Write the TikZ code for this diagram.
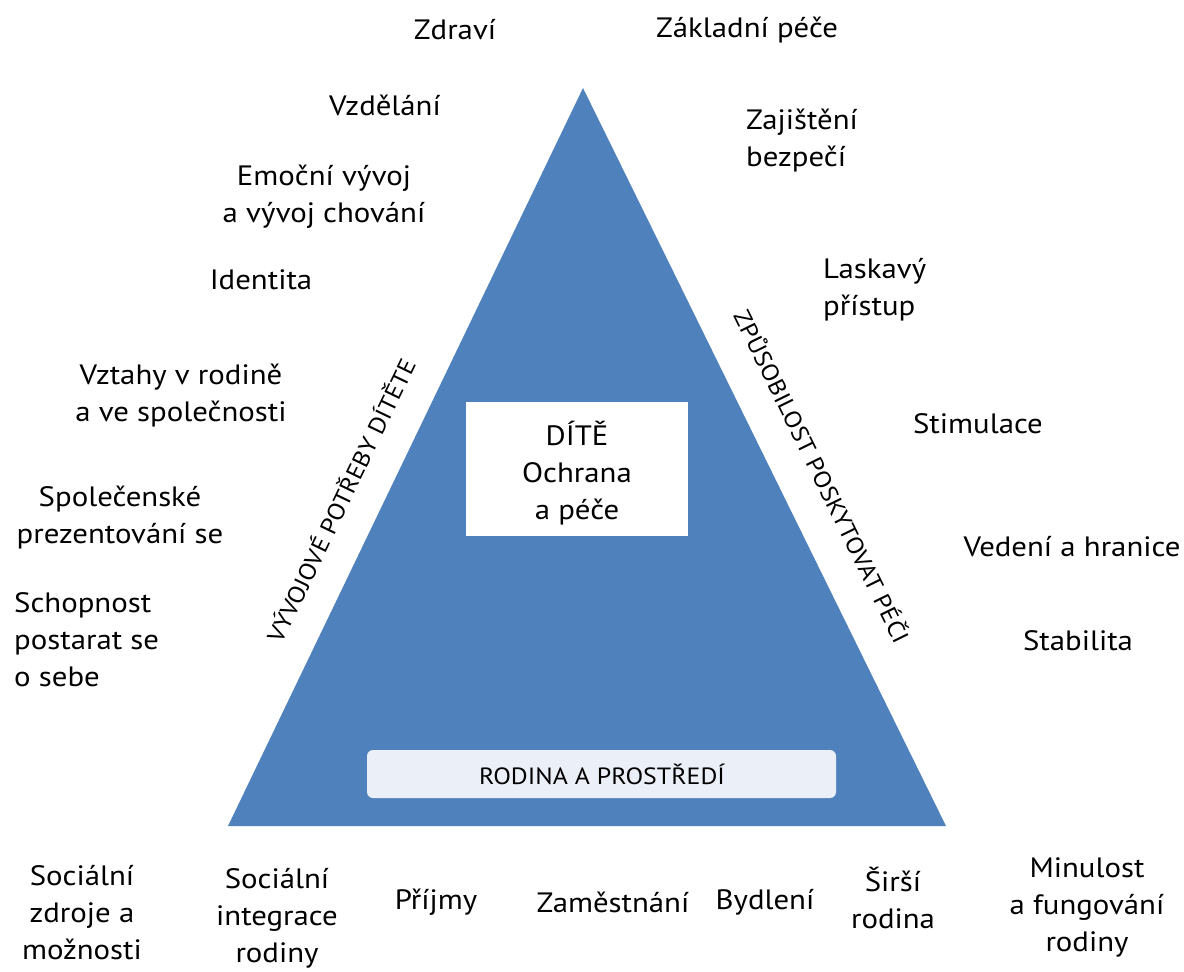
\documentclass[tikz,border=0pt]{standalone}
\usepackage{fontspec}
\setmainfont{PT Sans}[FakeStretch=1.1]
\definecolor{tri}{HTML}{4F81BD}
\definecolor{boxfill}{HTML}{EBF0F8}
\begin{document}
\begin{tikzpicture}[x=1pt,y=-1pt,
  lbl/.style={font=\fontsize{28}{37}\selectfont, align=center, inner sep=0pt, anchor=center},
  lbll/.style={lbl, align=left},
  side/.style={font=\fontsize{23.5}{26}\selectfont, inner sep=0pt, anchor=center}]
\useasboundingbox (0,0) rectangle (1184,972);
\fill[white] (0,0) rectangle (1184,972);
% triangle
\fill[tri] (583,88) coordinate (apex) -- (946,826) coordinate (br) -- (228,826) coordinate (bl) -- cycle;
% centre box
\node[fill=white, minimum width=222pt, minimum height=134pt, inner sep=0pt] (child) at (577,469) {};
\node[lbl] (childtxt) at (577,473) {DÍTĚ\\Ochrana\\a péče};
% bottom box
\node[fill=boxfill, rounded corners=6pt, minimum width=469pt, minimum height=48pt, inner sep=0pt] (env) at (601.5,774) {};
\node[side] (envtxt) at (602,774) {RODINA A PROSTŘEDÍ};
% side labels
\node[side, rotate=64.3] (leftside) at (340,500) {VÝVOJOVÉ POTŘEBY DÍTĚTE};
\node[side, rotate=-63.8] (rightside) at (823,476) {ZPŮSOBILOST POSKYTOVAT PÉČI};
% left / top labels
\node[lbl] (zdravi) at (455,30) {Zdraví};
\node[lbl] (zakl) at (747,30) {Základní péče};
\node[lbl] (vzdel) at (385,105) {Vzdělání};
\node[lbl] (emoc) at (324,197) {Emoční vývoj\\a vývoj chování};
\node[lbl] (ident) at (261,280) {Identita};
\node[lbl] (vztahy) at (181,396) {Vztahy v rodině\\a ve společnosti};
\node[lbl] (spol) at (120,518) {Společenské\\prezentování se};
\node[lbll, anchor=west] (schop) at (14,640) {Schopnost\\postarat se\\o sebe};
% right labels
\node[lbll, anchor=west] (zajist) at (746,141) {Zajištění\\bezpečí};
\node[lbll, anchor=west] (lask) at (823,290) {Laskavý\\přístup};
\node[lbl] (stim) at (978,424) {Stimulace};
\node[lbl] (vedeni) at (1072,547) {Vedení a hranice};
\node[lbl] (stab) at (1078,641) {Stabilita};
% bottom labels
\node[lbl] (soczdr) at (82,913) {Sociální\\zdroje a\\možnosti};
\node[lbl] (socint) at (277,918) {Sociální\\integrace\\rodiny};
\node[lbl] (prij) at (436,902) {Příjmy};
\node[lbl] (zam) at (613,902) {Zaměstnání};
\node[lbl] (byd) at (765,902) {Bydlení};
\node[lbl] (sirsi) at (893,898) {Širší\\rodina};
\node[lbl] (minul) at (1087,907) {Minulost\\a fungování\\rodiny};
\end{tikzpicture}
\end{document}
